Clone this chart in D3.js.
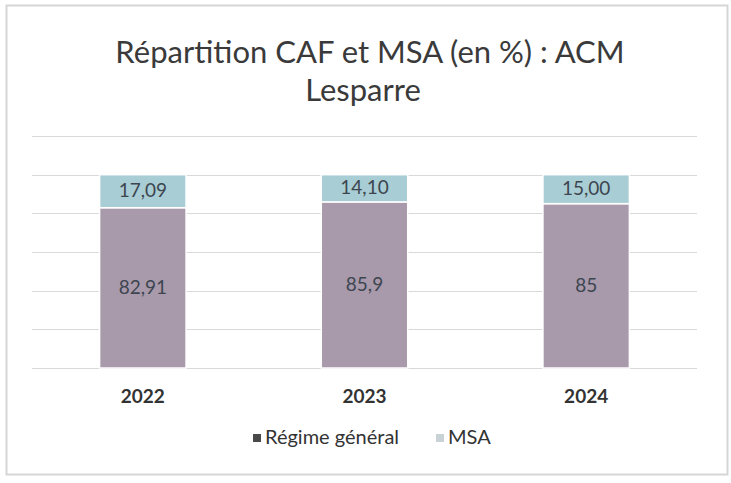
<!DOCTYPE html>
<html>
<head>
<meta charset="utf-8">
<script src="https://cdn.jsdelivr.net/npm/d3@7"></script>
<style>
  body { margin: 0; background: #fff; }
  text { font-family: Lato, "Open Sans", sans-serif; }
</style>
</head>
<body>
<svg></svg>
<script>
const width = 731;
const height = 483;

const years = ['2022', '2023', '2024'];
const regimeGeneral = [82.91, 85.9, 85];
const msa = [17.09, 14.10, 15.00];
const regimeLabels = ['82,91', '85,9', '85'];
const msaLabels = ['17,09', '14,10', '15,00'];
const seriesNames = ['Régime général', 'MSA'];
const gridTicks = [0, 20, 40, 60, 80, 100, 120];

const colors = ['#a899ab', '#a9cdd4'];

const svg = d3.select('svg')
    .attr('width', width)
    .attr('height', height);

// chart frame
svg.append('rect')
    .attr('x', 6.5).attr('y', 5.5)
    .attr('width', 721).attr('height', 469)
    .attr('fill', '#fff')
    .attr('stroke', '#d6d6d6')
    .attr('stroke-width', 2);

const title = svg.append('text')
    .attr('text-anchor', 'middle')
    .attr('fill', '#3a3a3a')
    .style('font-size', '31px');
title.append('tspan').attr('x', 370).attr('y', 63).text('Répartition CAF et MSA (en %) : ACM');
title.append('tspan').attr('x', 363).attr('y', 101).text('Lesparre');

const x = d3.scaleBand()
    .domain(years)
    .range([32, 697])
    .paddingInner(0.61)
    .paddingOuter(0.305);

const y = d3.scaleLinear()
    .domain([0, 120])
    .range([368, 136]);

svg.append('g')
  .selectAll('line')
  .data(gridTicks)
  .join('line')
    .attr('x1', 32).attr('x2', 697)
    .attr('y1', d => Math.round(y(d)) + 0.5)
    .attr('y2', d => Math.round(y(d)) + 0.5)
    .attr('stroke', '#d9d9d9')
    .attr('stroke-width', 1);

const data = years.map((yr, i) => ({ year: yr, rg: regimeGeneral[i], msa: msa[i] }));
const stacked = d3.stack().keys(['rg', 'msa'])(data);
const labels = [regimeLabels, msaLabels];

const groups = svg.append('g')
  .selectAll('g')
  .data(stacked)
  .join('g')
    .attr('fill', (d, i) => colors[i]);

groups.selectAll('rect')
  .data(d => d)
  .join('rect')
    .attr('x', d => x(d.data.year))
    .attr('width', x.bandwidth())
    .attr('y', d => y(d[1]))
    .attr('height', d => y(d[0]) - y(d[1]))
    .attr('stroke', '#fff')
    .attr('stroke-width', 1.5);

groups.each(function(s, si) {
  d3.select(this).selectAll('text')
    .data(s)
    .join('text')
      .attr('x', d => x(d.data.year) + x.bandwidth() / 2)
      .attr('y', d => (y(d[0]) + y(d[1])) / 2 + 6)
      .attr('text-anchor', 'middle')
      .attr('fill', '#3d4650')
      .style('font-size', '19px')
      .text((d, i) => labels[si][i]);
});

// x axis labels
svg.append('g')
  .selectAll('text')
  .data(years)
  .join('text')
    .attr('x', d => x(d) + x.bandwidth() / 2)
    .attr('y', 403)
    .attr('text-anchor', 'middle')
    .attr('fill', '#333')
    .style('font-size', '19px')
    .style('font-weight', 'bold')
    .text(d => d);

// legend
const legendX = [253, 436];
const legend = svg.append('g')
  .selectAll('g')
  .data(seriesNames)
  .join('g')
    .attr('transform', (d, i) => `translate(${legendX[i]}, 444)`);

legend.append('rect')
    .attr('x', 0).attr('y', -10)
    .attr('width', 8).attr('height', 8)
    .attr('fill', (d, i) => i === 0 ? '#4a4a4a' : '#c9d3d6');

legend.append('text')
    .attr('x', 12)
    .attr('y', 0)
    .attr('fill', '#333')
    .style('font-size', '20px')
    .text(d => d);
</script>
</body>
</html>
